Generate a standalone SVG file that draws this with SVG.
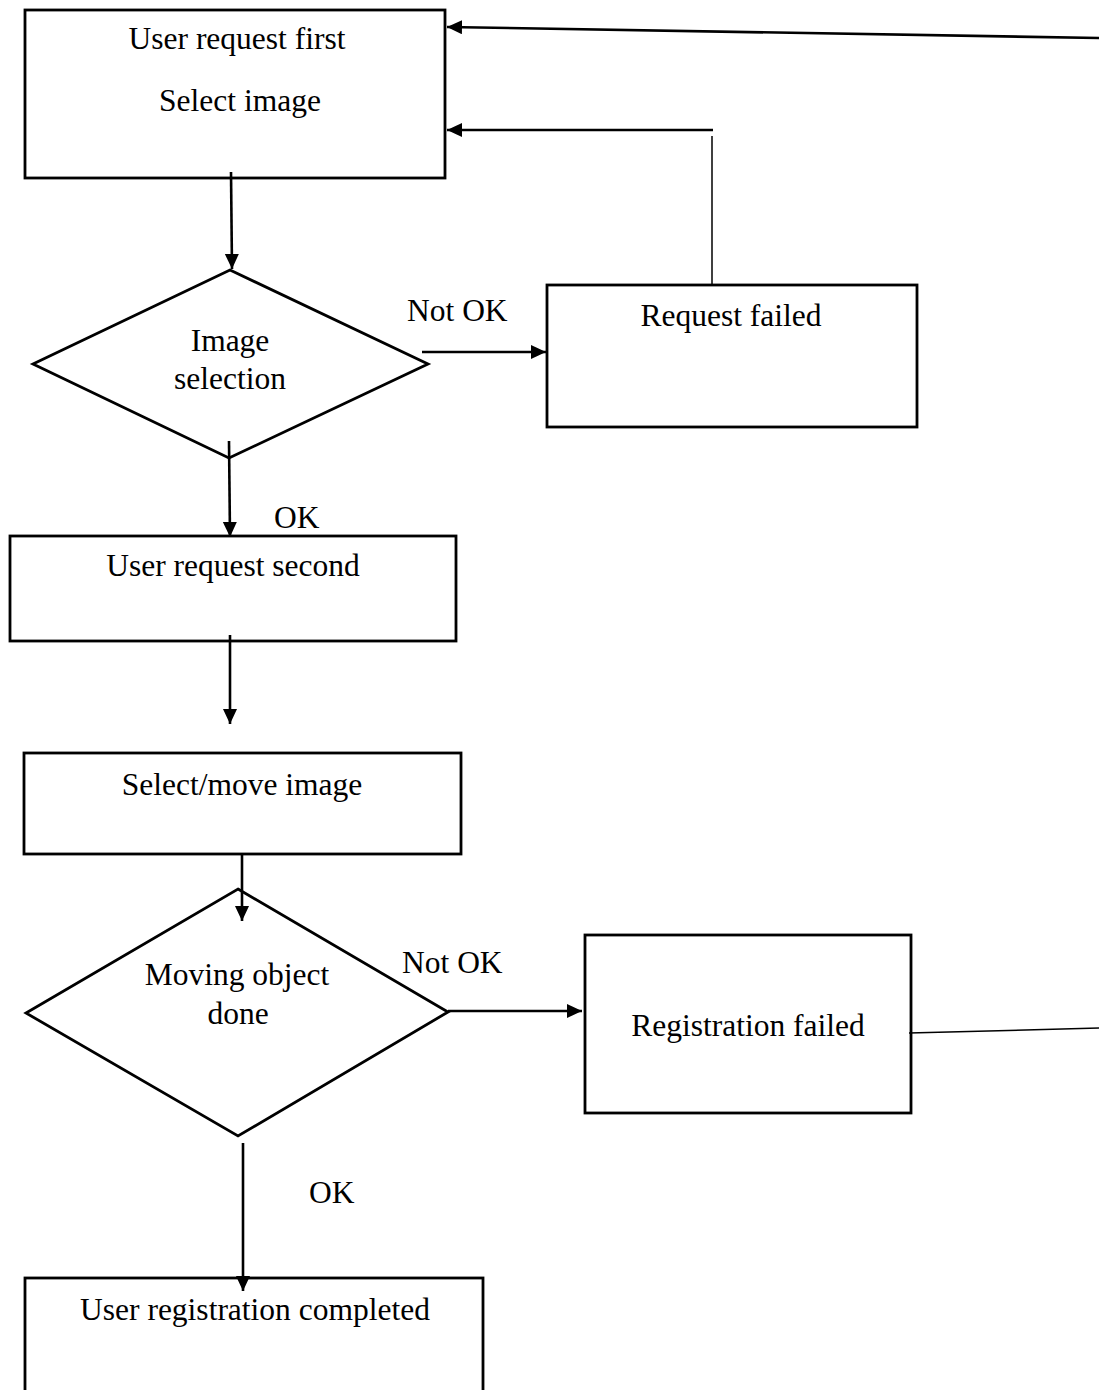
<svg xmlns="http://www.w3.org/2000/svg" width="1099" height="1390" viewBox="0 0 1099 1390">
<style>
.box{fill:#fff;stroke:#000;stroke-width:2.8}
.dia{fill:#fff;stroke:#000;stroke-width:2.8;stroke-linejoin:miter}
.ln{fill:none;stroke:#000;stroke-width:2.6}
.thin{fill:none;stroke:#000;stroke-width:1.5}
.arr{marker-end:url(#ah)}
text{font-family:"Liberation Serif","Times New Roman",serif;font-size:31.5px;fill:#000}
.c{text-anchor:middle}
</style>
<defs>
<marker id="ah" markerUnits="userSpaceOnUse" markerWidth="17" markerHeight="15" refX="15" refY="7" orient="auto">
<path d="M0,0 L15,7 L0,14 Z" fill="#000"/>
</marker>
</defs>
<rect width="1099" height="1390" fill="#fff"/>
<g id="n_request_first">
<rect class="box" x="25" y="10" width="420" height="168"/>
<text class="c" x="237" y="49">User request first</text>
<text class="c" x="240" y="111">Select image</text>
</g>
<g id="n_image_selection">
<polygon class="dia" points="230,270 428,364 229,458 33,364"/>
<text class="c" x="230" y="351">Image</text>
<text class="c" x="230" y="389">selection</text>
</g>
<g id="n_request_failed">
<rect class="box" x="547" y="285" width="370" height="142"/>
<text class="c" x="731" y="326">Request failed</text>
</g>
<g id="n_request_second">
<rect class="box" x="10" y="536" width="446" height="105"/>
<text class="c" x="233" y="576">User request second</text>
</g>
<g id="n_select_move">
<rect class="box" x="24" y="753" width="437" height="101"/>
<text class="c" x="242" y="795">Select/move image</text>
</g>
<g id="n_moving_done">
<polygon class="dia" points="238,889 448,1012 238,1136 26,1013"/>
<text class="c" x="237" y="985">Moving object</text>
<text class="c" x="238" y="1024">done</text>
</g>
<g id="n_registration_failed">
<rect class="box" x="585" y="935" width="326" height="178"/>
<text class="c" x="748" y="1036">Registration failed</text>
</g>
<g id="n_registration_completed">
<rect class="box" x="25" y="1278" width="458" height="130"/>
<text class="c" x="255" y="1320">User registration completed</text>
</g>
<g id="connectors">
<line class="ln arr" x1="231" y1="172" x2="232" y2="269"/>
<line class="ln arr" x1="422" y1="352" x2="546" y2="352"/>
<line class="thin" x1="712" y1="285" x2="712" y2="136"/>
<line class="ln arr" x1="713" y1="130" x2="447" y2="130"/>
<line class="ln arr" x1="1099" y1="38" x2="447" y2="27"/>
<line class="ln arr" x1="229" y1="441" x2="230" y2="537"/>
<line class="ln arr" x1="230" y1="635" x2="230" y2="724"/>
<line class="ln arr" x1="242" y1="855" x2="242" y2="921"/>
<line class="ln arr" x1="448" y1="1011" x2="582" y2="1011"/>
<line class="thin" x1="909" y1="1033" x2="1099" y2="1028"/>
<line class="ln arr" x1="243" y1="1143" x2="243" y2="1291"/>
<text x="407" y="321">Not OK</text>
<text x="274" y="528">OK</text>
<text x="402" y="973">Not OK</text>
<text x="309" y="1203">OK</text>
</g>
</svg>
